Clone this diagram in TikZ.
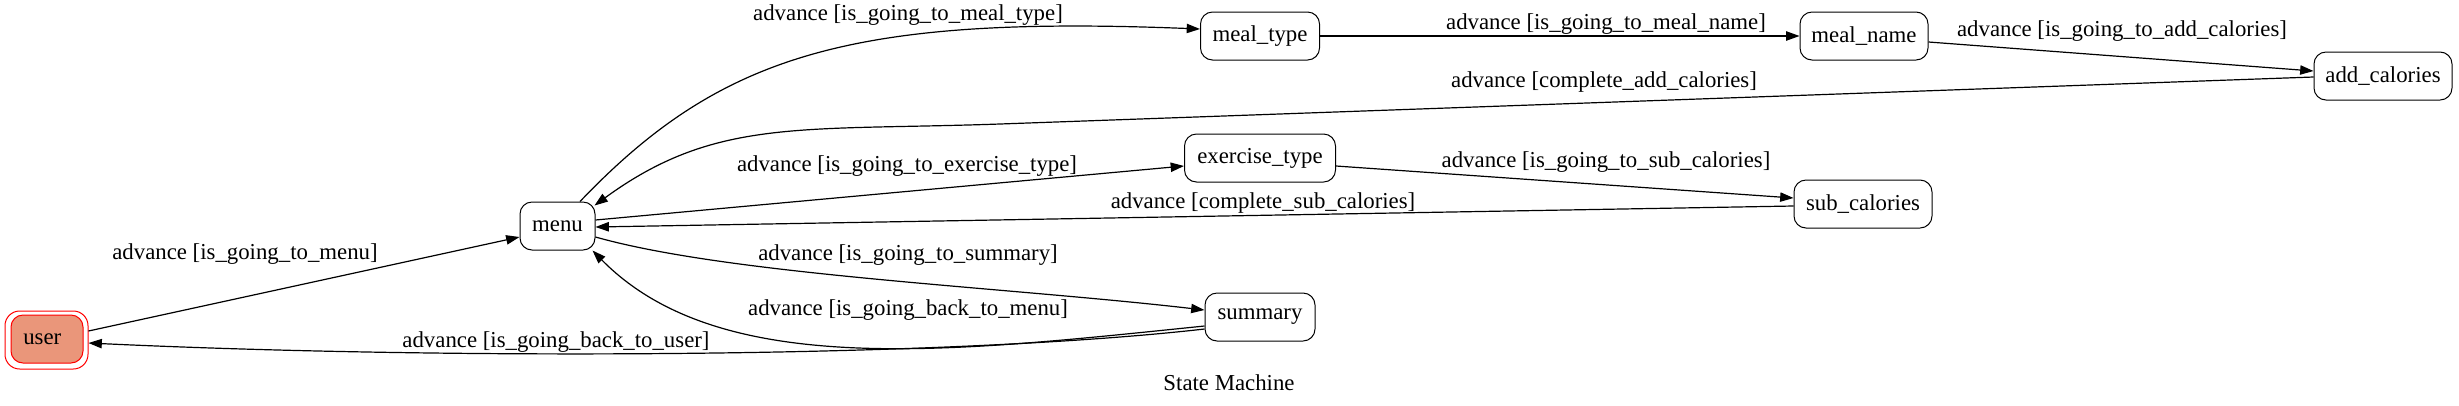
\documentclass[tikz,border=0pt]{standalone}
\usepackage{fontspec}
\setmainfont{Liberation Serif}
\usetikzlibrary{arrows.meta,calc}
\definecolor{salmonfill}{RGB}{234,150,122}
\begin{document}
\begin{tikzpicture}[x=0.75pt,y=-0.75pt,
  state/.style={draw,rounded corners=9pt,line width=0.75pt,minimum height=36pt,inner sep=0pt,font=\fontsize{17.1}{20}\selectfont},
  lbl/.style={inner sep=0pt,font=\fontsize{17.1}{20}\selectfont},
  edge/.style={line width=0.9pt,-{Triangle[length=10pt,width=7pt]}}]
\useasboundingbox (0,0) rectangle (2459,405);
% states
\node[state,draw=red,rounded corners=11pt,minimum width=83*0.75pt,minimum height=58*0.75pt] (userouter) at (46.5,340) {};
\node[state,draw=red,fill=salmonfill,minimum width=72*0.75pt] (user) at (47,339) {user\hspace*{7pt}};
\node[state,minimum width=75*0.75pt] (menu) at (557.5,226) {menu};
\node[state,minimum width=119*0.75pt] (mealtype) at (1260,36) {meal\_type};
\node[state,minimum width=128*0.75pt] (mealname) at (1864,36) {meal\_name};
\node[state,minimum width=138*0.75pt] (addcal) at (2383,76) {add\_calories};
\node[state,minimum width=151*0.75pt] (extype) at (1260,158) {exercise\_type};
\node[state,minimum width=138*0.75pt] (subcal) at (1863,204) {sub\_calories};
\node[state,minimum width=110*0.75pt] (summary) at (1260,317) {summary};
% edges
\draw[edge] ($(userouter.east)+(0,-9)$) -- ($(menu.west)+(0,11)$);
\draw[edge] ($(summary.west)+(0,12)$) .. controls (950,358) and (450,360) .. ($(userouter.east)+(0,3)$);
\draw[edge] ($(menu.north)+(22.5,0)$) .. controls (720,55) and (850,15) .. ($(mealtype.west)+(0,-7)$);
\draw[edge] (mealtype.east) -- (mealname.west);
\draw[edge] ($(mealname.east)+(0,6)$) -- ($(addcal.west)+(0,-5)$);
\draw[edge] ($(addcal.west)+(0,1)$) -- (1000,124) .. controls (800,131) and (715,117.5) .. ($(menu.north east)+(-1,4)$);
\draw[edge] ($(menu.east)+(0,-6)$) -- ($(extype.west)+(0,8)$);
\draw[edge] ($(extype.east)+(0,8)$) -- ($(subcal.west)+(0,-6)$);
\draw[edge] ($(subcal.west)+(0,2)$) -- ($(menu.east)+(0,1)$);
\draw[edge] ($(menu.east)+(0,11)$) .. controls (730,275) and (1005,287) .. ($(summary.west)+(0,-7)$);
\draw[edge] ($(summary.west)+(0,9)$) .. controls (950,352) and (720,380) .. ($(menu.south east)+(-3,0)$);
% labels
\node[lbl] (l1) at (245,254) {advance [is\_going\_to\_menu]};
\node[lbl] (l2) at (556,342) {advance [is\_going\_back\_to\_user]};
\node[lbl] (l3) at (908,15) {advance [is\_going\_to\_meal\_type]};
\node[lbl] (l4) at (1606,24) {advance [is\_going\_to\_meal\_name]};
\node[lbl] (l5) at (2122,31) {advance [is\_going\_to\_add\_calories]};
\node[lbl] (l6) at (1604,82) {advance [complete\_add\_calories]};
\node[lbl] (l7) at (907,166) {advance [is\_going\_to\_exercise\_type]};
\node[lbl] (l8) at (1606,162) {advance [is\_going\_to\_sub\_calories]};
\node[lbl] (l9) at (1263,203) {advance [complete\_sub\_calories]};
\node[lbl] (l10) at (908,255) {advance [is\_going\_to\_summary]};
\node[lbl] (l11) at (908,310) {advance [is\_going\_back\_to\_menu]};
\node[lbl] (title) at (1229,383) {State Machine};
\end{tikzpicture}
\end{document}
